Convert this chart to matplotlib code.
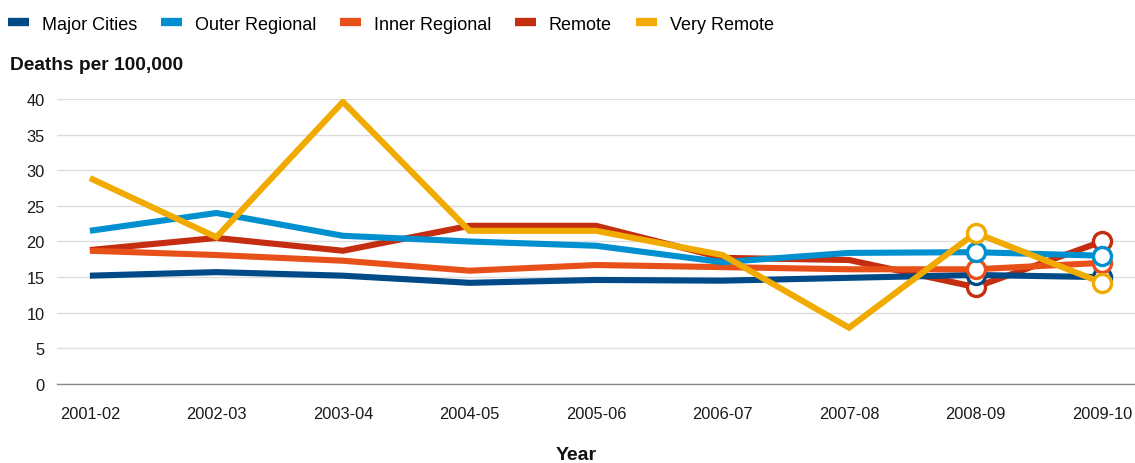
import matplotlib
matplotlib.use("Agg")
import matplotlib.pyplot as plt
from matplotlib.lines import Line2D

years = ["2001-02", "2002-03", "2003-04", "2004-05", "2005-06",
         "2006-07", "2007-08", "2008-09", "2009-10"]

major_cities = [15.2, 15.7, 15.2, 14.2, 14.6, 14.5, 14.9, 15.3, 15.0]
outer_regional = [21.5, 24.0, 20.8, 20.0, 19.4, 17.1, 18.4, 18.5, 18.0]
inner_regional = [18.7, 18.1, 17.3, 15.9, 16.7, 16.4, 16.1, 16.1, 17.0]
remote = [18.8, 20.5, 18.7, 22.2, 22.2, 17.7, 17.4, 13.6, 20.0]
very_remote = [28.9, 20.6, 39.6, 21.5, 21.5, 18.1, 7.9, 21.2, 14.2]

# series name -> (values, colour)
series = {
    "Major Cities": (major_cities, "#004a87"),
    "Outer Regional": (outer_regional, "#0090d0"),
    "Inner Regional": (inner_regional, "#e8501a"),
    "Remote": (remote, "#c42d10"),
    "Very Remote": (very_remote, "#f0aa00"),
}
draw_order = ["Remote", "Major Cities", "Inner Regional", "Outer Regional", "Very Remote"]
n_marked = 2  # last points drawn with open circles

plt.rcParams['font.family'] = ['Liberation Sans', 'DejaVu Sans']

fig = plt.figure(figsize=(11.35, 4.64), dpi=100)
ax = fig.add_axes([0.0502, 0.1703, 0.9498, 0.6142])

x = list(range(len(years)))
for z, name in enumerate(draw_order):
    vals, col = series[name]
    ax.plot(x, vals, color=col, lw=4.4, solid_joinstyle='miter',
            solid_capstyle='butt', zorder=3 + z)
    ax.plot(x[-n_marked:], vals[-n_marked:], ls='none', marker='o',
            ms=13, mfc='white', mec=col, mew=2.4, zorder=3 + z)

ax.set_ylim(0, 40)
ax.set_yticks(range(0, 41, 5))
ax.set_xlim(-0.26, 8.26)
ax.set_xticks(x)
ax.set_xticklabels(years)
ax.tick_params(axis='both', length=0, labelsize=11.8, colors='#1a1a1a')
ax.tick_params(axis='x', pad=16)
ax.tick_params(axis='y', pad=9)
ax.grid(axis='y', color='#dddddd', lw=1)
ax.set_axisbelow(True)
for s in ['top', 'right', 'left']:
    ax.spines[s].set_visible(False)
ax.spines['bottom'].set_color('#8a8a8a')
ax.spines['bottom'].set_linewidth(1)

fig.text(10 / 1135, 1 - 65 / 464, "Deaths per 100,000", fontsize=13.8,
         fontweight='bold', va='center', ha='left', color='#111111')
fig.text(576 / 1135, 1 - 456 / 464, "Year", fontsize=14,
         fontweight='bold', va='center', ha='center', color='#111111')

handles = [Line2D([], [], color=series[n][1], lw=6, solid_capstyle='butt')
           for n in series]
fig.legend(handles, list(series.keys()), loc='center left',
           bbox_to_anchor=(0.004, 1 - 25 / 464), ncol=5, frameon=False,
           fontsize=13, handlelength=1.15, handletextpad=0.7,
           columnspacing=1.35, borderaxespad=0, borderpad=0.2)

fig.savefig("out.png", dpi=100)
